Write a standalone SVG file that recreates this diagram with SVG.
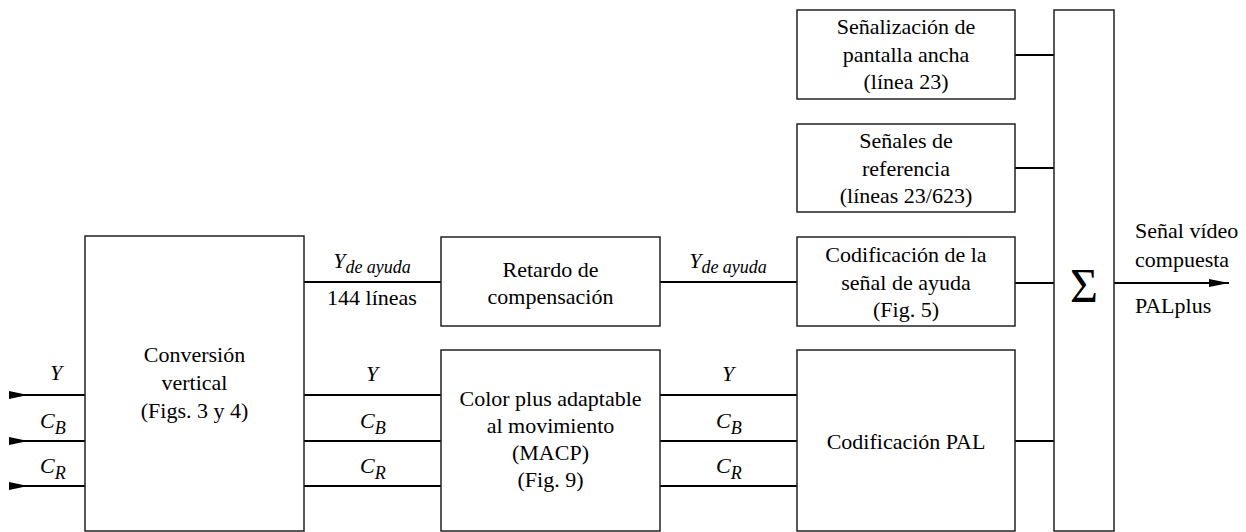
<svg xmlns="http://www.w3.org/2000/svg" width="1246" height="532" viewBox="0 0 1246 532">
<style>
.box{fill:#fff;stroke:#222;stroke-width:1.5}
.ln{stroke:#000;stroke-width:2;fill:none}
text{font-family:"Liberation Serif", "Times New Roman", serif;font-size:22px;fill:#000}
.c{text-anchor:middle}
.i{font-style:italic}
.sub{font-size:18px}
</style>
<defs>
<marker id="arr" markerWidth="20" markerHeight="10" refX="20" refY="5" orient="auto" markerUnits="userSpaceOnUse">
<path d="M0,1 L20,5 L0,9 Z" fill="#000"/>
</marker>
</defs>
<g id="connectors">
<path class="ln" d="M9,395 H85 M9,441 H85 M9,486 H85"/>
<path d="M9,391 L28,395 L9,399 Z M9,437 L28,441 L9,445 Z M9,482 L28,486 L9,490 Z" fill="#000"/>
<path class="ln" d="M304,282 H441 M304,395 H441 M304,441 H441 M304,486 H441"/>
<path class="ln" d="M660,282 H797 M660,395 H797 M660,441 H797 M660,486 H797"/>
<path class="ln" d="M1015,55 H1054 M1015,168 H1054 M1015,283 H1054 M1015,441 H1054"/>
<path class="ln" d="M1114,283 H1229" marker-end="url(#arr)"/>
</g>
<g id="labels">
<text class="i" x="56" y="380" text-anchor="middle">Y</text>
<text class="i" x="40" y="428">C<tspan class="sub" dy="6">B</tspan></text>
<text class="i" x="40" y="473">C<tspan class="sub" dy="6">R</tspan></text>
<text class="c i" x="372" y="268">Y<tspan class="sub" dy="5">de ayuda</tspan></text>
<text class="c" x="372" y="305">144 líneas</text>
<text class="c i" x="372" y="381">Y</text>
<text class="i" x="360" y="428">C<tspan class="sub" dy="6">B</tspan></text>
<text class="i" x="360" y="473">C<tspan class="sub" dy="6">R</tspan></text>
<text class="c i" x="728" y="268">Y<tspan class="sub" dy="5">de ayuda</tspan></text>
<text class="c i" x="728" y="381">Y</text>
<text class="i" x="716" y="428">C<tspan class="sub" dy="6">B</tspan></text>
<text class="i" x="716" y="473">C<tspan class="sub" dy="6">R</tspan></text>
<text x="1135" y="238">Señal vídeo</text>
<text x="1135" y="267">compuesta</text>
<text x="1135" y="313">PALplus</text>
</g>
<g id="conv">
<rect class="box" x="85" y="236" width="219" height="295"/>
<text class="c" x="194.5" y="362">Conversión</text>
<text class="c" x="194.5" y="390">vertical</text>
<text class="c" x="194.5" y="418">(Figs. 3 y 4)</text>
</g>
<g id="retardo">
<rect class="box" x="441" y="237" width="219" height="89"/>
<text class="c" x="550.5" y="277">Retardo de</text>
<text class="c" x="550.5" y="304">compensación</text>
</g>
<g id="macp">
<rect class="box" x="441" y="350" width="219" height="181"/>
<text class="c" x="550.5" y="406">Color plus adaptable</text>
<text class="c" x="550.5" y="433">al movimiento</text>
<text class="c" x="550.5" y="460">(MACP)</text>
<text class="c" x="550.5" y="487">(Fig. 9)</text>
</g>
<g id="senal1">
<rect class="box" x="797" y="10" width="218" height="89"/>
<text class="c" x="906" y="34">Señalización de</text>
<text class="c" x="906" y="61.5">pantalla ancha</text>
<text class="c" x="906" y="89">(línea 23)</text>
</g>
<g id="senal2">
<rect class="box" x="797" y="124" width="218" height="88"/>
<text class="c" x="906" y="148">Señales de</text>
<text class="c" x="906" y="175.5">referencia</text>
<text class="c" x="906" y="203">(líneas 23/623)</text>
</g>
<g id="codayuda">
<rect class="box" x="797" y="237" width="218" height="89"/>
<text class="c" x="906" y="262">Codificación de la</text>
<text class="c" x="906" y="290">señal de ayuda</text>
<text class="c" x="906" y="317">(Fig. 5)</text>
</g>
<g id="codpal">
<rect class="box" x="797" y="350" width="218" height="181"/>
<text class="c" x="906" y="449">Codificación PAL</text>
</g>
<g id="sum">
<rect class="box" x="1054" y="10" width="60" height="521"/>
<text class="c" x="1084" y="302" style="font-size:48px">Σ</text>
</g>
</svg>
